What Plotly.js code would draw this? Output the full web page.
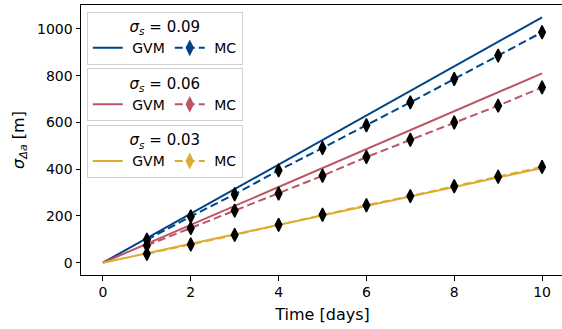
<!DOCTYPE html>
<html>
<head>
<meta charset="utf-8">
<script src="https://cdn.plot.ly/plotly-3.0.1.min.js"></script>
<style>
html,body{margin:0;padding:0;overflow:hidden;background:#fff;}
#chart{width:564px;height:329px;}
</style>
</head>
<body>
<div id="chart"></div>
<script>
// ---- data ----
const days = [0, 1, 2, 3, 4, 5, 6, 7, 8, 9, 10];
const mcDays = [1, 2, 3, 4, 5, 6, 7, 8, 9, 10];

const gvm009 = [0, 105, 210, 315, 420, 525, 630, 735, 840, 945, 1050];
const gvm006 = [0, 81, 162, 243, 324, 405, 486, 567, 648, 729, 810];
const gvm003 = [0, 40.5, 81, 121.5, 162, 202.5, 243, 283.5, 324, 364.5, 405];

const mc009 = [98, 198, 293, 395, 491, 588, 686, 786, 886, 986];
const mc006 = [74, 148, 223, 296, 372, 452, 526, 600, 672, 750];
const mc003 = [38, 78, 119, 162, 205, 246, 285, 327, 368, 410];

const sigmaLabels = ['0.09', '0.06', '0.03'];
const seriesNames = ['GVM', 'MC'];
const xTicks = [0, 2, 4, 6, 8, 10];
const yTicks = [0, 200, 400, 600, 800, 1000];

// ---- styling ----
const colors = ['#004488', '#BB5566', '#DDAA33'];
const gvmSets = [gvm009, gvm006, gvm003];
const mcSets = [mc009, mc006, mc003];
const legendIds = ['legend', 'legend2', 'legend3'];
const FONT = 'DejaVu Sans, sans-serif';
const dash = '8px,4px';
const NB = '\u00a0';

const traces = [];
for (let i = 0; i < 3; i++) {
  traces.push({
    x: days, y: gvmSets[i], mode: 'lines', type: 'scatter',
    line: {color: colors[i], width: 2}, showlegend: false, hoverinfo: 'skip'
  });
}
for (let i = 0; i < 3; i++) {
  traces.push({
    x: mcDays, y: mcSets[i], mode: 'lines+markers', type: 'scatter',
    line: {color: colors[i], width: 2, dash: dash},
    marker: {symbol: 'diamond-tall', color: 'black', size: 9.5, line: {color: 'black', width: 1.4}},
    showlegend: false, hoverinfo: 'skip'
  });
}
for (let i = 0; i < 3; i++) {
  traces.push({
    x: [null], y: [null], mode: 'lines', type: 'scatter', name: NB + seriesNames[0],
    line: {color: colors[i], width: 2}, legend: legendIds[i], showlegend: true
  });
  traces.push({
    x: [null], y: [null], mode: 'lines+markers', type: 'scatter', name: NB + seriesNames[1],
    line: {color: colors[i], width: 2, dash: dash},
    marker: {symbol: 'diamond-tall', color: colors[i], size: 12},
    legend: legendIds[i], showlegend: true
  });
}

const legendTops = [0.975, 0.766, 0.556];
function mkLegend(i) {
  return {
    x: 0.012, y: legendTops[i], xanchor: 'left', yanchor: 'top',
    orientation: 'h',
    bgcolor: 'rgba(255,255,255,0.8)', bordercolor: '#d0d0d0', borderwidth: 1,
    font: {family: FONT, size: 14, color: 'black'},
    itemwidth: 30,
    tracegroupgap: 0,
    title: {text: '<i>σ</i><sub><i>s</i></sub> = ' + sigmaLabels[i], side: 'top center',
            font: {family: FONT, size: 15, color: 'black'}}
  };
}

const layout = {
  width: 564, height: 329,
  margin: {l: 81, r: 0, t: 5, b: 54, pad: 0},
  paper_bgcolor: 'white', plot_bgcolor: 'white',
  font: {family: FONT, size: 14, color: 'black'},
  showlegend: true,
  legend: mkLegend(0), legend2: mkLegend(1), legend3: mkLegend(2),
  xaxis: {
    range: [-0.5, 10.5], tickvals: xTicks, ticktext: xTicks.map(String),
    ticks: 'outside', ticklen: 4.5, tickwidth: 1, tickcolor: 'black',
    showline: true, linecolor: 'black', linewidth: 1, mirror: true,
    showgrid: false, zeroline: false, automargin: false,
    tickfont: {family: FONT, size: 14, color: 'black'},
    title: {text: 'Time [days]', standoff: 9, font: {family: FONT, size: 16, color: 'black'}}
  },
  yaxis: {
    range: [-52.5, 1102.5], tickvals: yTicks, ticktext: yTicks.map(String),
    ticks: 'outside', ticklen: 4.5, tickwidth: 1, tickcolor: 'black',
    showline: true, linecolor: 'black', linewidth: 1, mirror: true,
    showgrid: false, zeroline: false, automargin: false,
    tickfont: {family: FONT, size: 14, color: 'black'},
    title: {text: '<i>σ</i><sub><i>Δa</i></sub> [m]', standoff: 8, font: {family: FONT, size: 16, color: 'black'}}
  }
};

Plotly.newPlot('chart', traces, layout, {displayModeBar: false, staticPlot: true});
</script>
</body>
</html>
